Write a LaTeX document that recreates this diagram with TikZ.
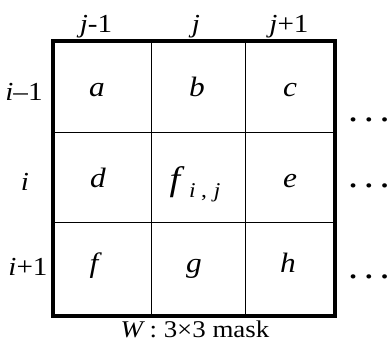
\documentclass[tikz,border=0pt]{standalone}
\usepackage{fontspec}
\setmainfont{Liberation Serif}
\usetikzlibrary{positioning}

\begin{document}
\begin{tikzpicture}[x=1pt,y=-1pt,
   t/.style={inner sep=0pt,anchor=base,xscale=1.12,font=\fontsize{26}{30}\selectfont},
   v/.style={t,font=\fontsize{28}{32}\selectfont\itshape},
   grid/.style={line width=1pt,black},
   frame/.style={line width=4.5pt,black}]
  \useasboundingbox (0,0) rectangle (389,350);
  % mask corners and cell borders
  \coordinate (nw) at (53,41);
  \coordinate (se) at (335,316);
  \coordinate (c1t) at (151,41);  \coordinate (c1b) at (151,316);
  \coordinate (c2t) at (245,41);  \coordinate (c2b) at (245,316);
  \coordinate (r1l) at (53,133);  \coordinate (r1r) at (335,133);
  \coordinate (r2l) at (53,223);  \coordinate (r2r) at (335,223);
  \draw[grid] (c1t) -- (c1b);
  \draw[grid] (c2t) -- (c2b);
  \draw[grid] (r1l) -- (r1r);
  \draw[grid] (r2l) -- (r2r);
  \draw[frame] (nw) rectangle (se);
  % column and row indices
  \node[t] (jm) at (96,33)  {\textit{j}-1};
  \node[t] (j0) at (196,33) {\textit{j}};
  \node[t] (jp) at (289,33) {\textit{j}+1};
  \node[t] (im) at (24,101) {\textit{i}–1};
  \node[t] (i0) at (25,191) {\textit{i}};
  \node[t] (ip) at (28,276) {\textit{i}+1};
  % cell values
  \node[v] (a) at (97,97)  {a};
  \node[v] (b) at (197,97) {b};
  \node[v] (c) at (290,97) {c};
  \node[v] (d) at (98,188) {d};
  \node[t] (fij) at (195,191) {\fontsize{34}{38}\selectfont\textit{f}\hspace{4pt}\raisebox{-7pt}{\fontsize{21}{24}\selectfont\textit{i}\hspace{5pt},\hspace{6pt}\textit{j}}};
  \node[v] (e) at (290,188) {e};
  \node[v] (f) at (94,273)  {f};
  \node[v] (g) at (194,273) {g};
  \node[v] (h) at (288,273) {h};
  % continuation dots
  \node[t,font=\fontsize{36}{40}\selectfont,anchor=base west] (dm) at (348,122) {.\hspace{5pt}.\hspace{5pt}.};
  \node[t,font=\fontsize{36}{40}\selectfont,anchor=base west] (d0) at (348,188) {.\hspace{5pt}.\hspace{5pt}.};
  \node[t,font=\fontsize{36}{40}\selectfont,anchor=base west] (dp) at (348,279) {.\hspace{5pt}.\hspace{5pt}.};
  % caption
  \node[t,font=\fontsize{24}{28}\selectfont] (cap) at (195,338) {\textit{W}\,: 3×3 mask};
\end{tikzpicture}
\end{document}
